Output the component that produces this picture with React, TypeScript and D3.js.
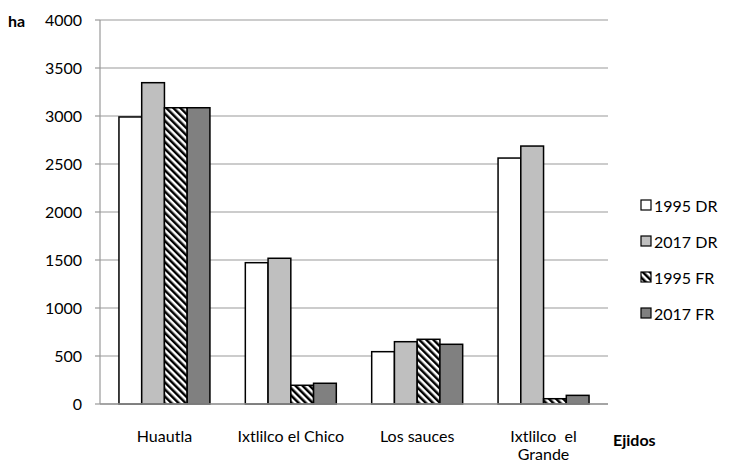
import React from "react";
import * as d3 from "d3";

const categories = ["Huautla", "Ixtlilco el Chico", "Los sauces", "Ixtlilco el Grande"];
const categoryLines = [["Huautla"], ["Ixtlilco el Chico"], ["Los sauces"], ["Ixtlilco  el", "Grande"]];
const seriesNames = ["1995 DR", "2017 DR", "1995 FR", "2017 FR"];
const dr1995 = [2990, 1472, 545, 2562];
const dr2017 = [3347, 1518, 649, 2687];
const fr1995 = [3086, 195, 674, 55];
const fr2017 = [3086, 216, 622, 90];
const yTicks = [0, 500, 1000, 1500, 2000, 2500, 3000, 3500, 4000];

const seriesValues = [dr1995, dr2017, fr1995, fr2017];
const fills = ["#ffffff", "#bfbfbf", "url(#hatch)", "#808080"];

export default function App() {
  const left = 100, right = 608, top = 20, bottom = 404;
  const x = d3.scaleBand().domain(categories).range([left, right]).paddingInner(0.28).paddingOuter(0.15);
  const xs = d3.scaleBand().domain(seriesNames).range([0, x.bandwidth()]);
  const y = d3.scaleLinear().domain([0, 4000]).range([bottom, top]);
  const font = "Lato, 'Open Sans', sans-serif";
  const fs = 16;
  return (
    <svg width={729} height={464} style={{ position: "absolute", left: 0, top: 0, background: "#fff" }} fontFamily={font}>
      <defs>
        <pattern id="hatch" width="5" height="5" patternUnits="userSpaceOnUse" patternTransform="rotate(-45)">
          <rect width="5" height="5" fill="#fff" />
          <rect width="2.5" height="5" fill="#000" />
        </pattern>
      </defs>
      {yTicks.map((t) => (
        <g key={t}>
          <line x1={left} x2={right} y1={y(t)} y2={y(t)} stroke="#999" strokeWidth={1.2} />
          <line x1={left - 5} x2={left} y1={y(t)} y2={y(t)} stroke="#999" strokeWidth={1.2} />
          <text x={left - 18} y={y(t) + 5.5} textAnchor="end" fontSize={fs} fill="#000">{t}</text>
        </g>
      ))}
      <line x1={left} x2={left} y1={top} y2={bottom} stroke="#999" strokeWidth={1.2} />
      {categories.map((c, i) =>
        seriesNames.map((s, j) => {
          const v = seriesValues[j][i];
          return (
            <rect key={c + s} x={(x(c) as number) + (xs(s) as number)} y={y(v)} width={xs.bandwidth()}
              height={bottom - y(v)} fill={fills[j]} stroke="#000" strokeWidth={1.5} />
          );
        })
      )}
      <line x1={left} x2={right} y1={bottom} y2={bottom} stroke="#999" strokeWidth={1.5} />
      {categories.map((c, i) =>
        categoryLines[i].map((ln, k) => (
          <text key={c + k} x={(x(c) as number) + x.bandwidth() / 2} y={442 + k * 18} textAnchor="middle" fontSize={fs} fill="#000" style={{ whiteSpace: "pre" }}>{ln}</text>
        ))
      )}
      <text x={8} y={27} fontSize={fs} fontWeight="bold">ha</text>
      <text x={613} y={446} fontSize={fs} fontWeight="bold">Ejidos</text>
      {seriesNames.map((s, j) => (
        <g key={s} transform={`translate(641, ${200 + j * 36})`}>
          <rect x={0} y={0} width={10} height={10} fill={fills[j]} stroke="#000" strokeWidth={1.2} />
          <text x={13} y={11.5} fontSize={fs}>{s}</text>
        </g>
      ))}
    </svg>
  );
}
